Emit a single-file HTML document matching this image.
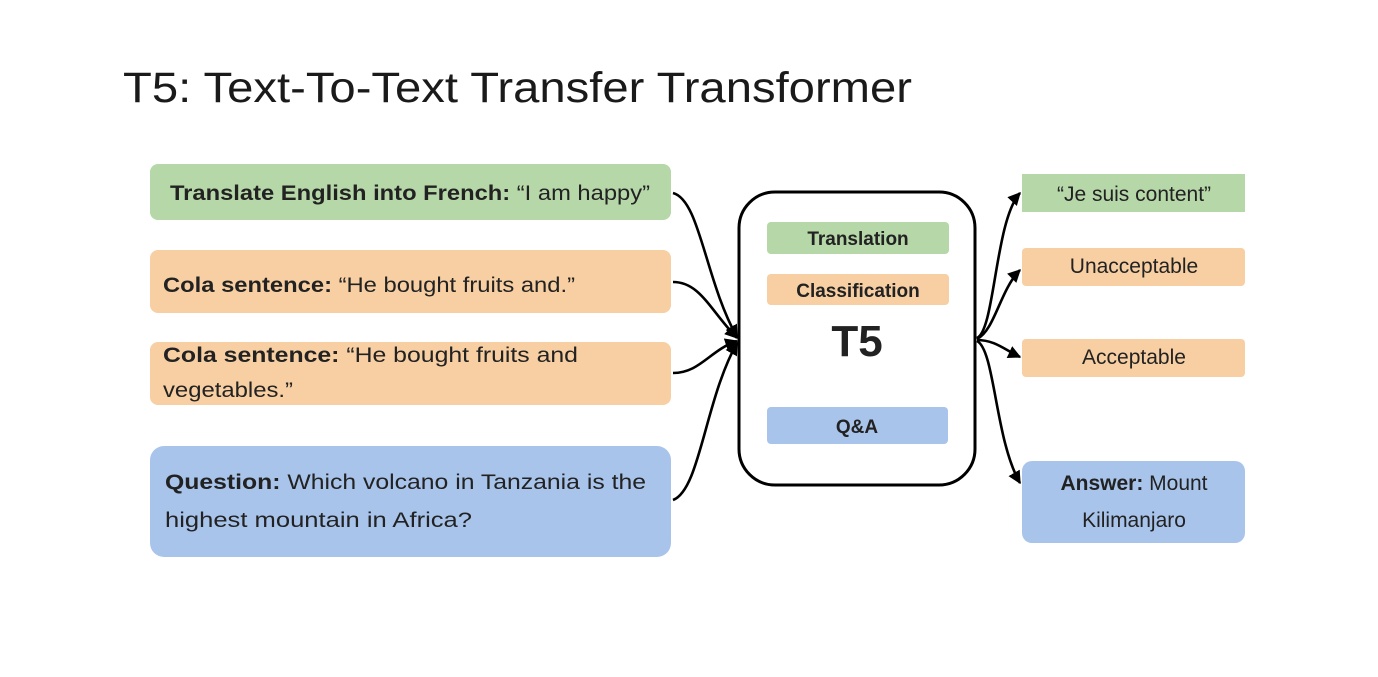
<!DOCTYPE html>
<html><head><style>
body{margin:0;background:#fff;}
svg text{font-family:"Liberation Sans",sans-serif;fill:#222;}
</style></head><body>
<svg width="1378" height="672" xmlns="http://www.w3.org/2000/svg">
<defs><marker id="a" viewBox="0 0 10 10" refX="9" refY="5" markerWidth="5" markerHeight="5" orient="auto"><path d="M0,0L10,5L0,10z" fill="#000"/></marker></defs>
<text x="123" y="102" font-size="43" textLength="789" lengthAdjust="spacingAndGlyphs" style="fill:#1a1a1a">T5: Text-To-Text Transfer Transformer</text>
<rect x="150" y="164" width="521" height="56" rx="8" fill="#b6d7a8"/>
<rect x="150" y="250" width="521" height="63" rx="8" fill="#f7cfa3"/>
<rect x="150" y="342" width="521" height="63" rx="8" fill="#f7cfa3"/>
<rect x="150" y="446" width="521" height="111" rx="14" fill="#a9c4eb"/>
<text x="170" y="200" font-size="21" textLength="480" lengthAdjust="spacingAndGlyphs"><tspan font-weight="bold">Translate English into French: </tspan>“I am happy”</text>
<text x="163" y="292" font-size="21" textLength="412" lengthAdjust="spacingAndGlyphs"><tspan font-weight="bold">Cola sentence: </tspan>“He bought fruits and.”</text>
<text x="163" y="362" font-size="21" textLength="415" lengthAdjust="spacingAndGlyphs"><tspan font-weight="bold">Cola sentence: </tspan>“He bought fruits and</text>
<text x="163" y="397" font-size="21" textLength="130" lengthAdjust="spacingAndGlyphs">vegetables.”</text>
<text x="165" y="489" font-size="21" textLength="481" lengthAdjust="spacingAndGlyphs"><tspan font-weight="bold">Question: </tspan>Which volcano in Tanzania is the</text>
<text x="165" y="527" font-size="21" textLength="307" lengthAdjust="spacingAndGlyphs">highest mountain in Africa?</text>
<rect x="739" y="192" width="236" height="293" rx="36" fill="#fff" stroke="#000" stroke-width="3"/>
<rect x="767" y="222" width="182" height="32" rx="4" fill="#b6d7a8"/>
<rect x="767" y="274" width="182" height="31" rx="4" fill="#f7cfa3"/>
<rect x="767" y="407" width="181" height="37" rx="4" fill="#a9c4eb"/>
<text x="858" y="245" font-size="19" font-weight="bold" text-anchor="middle">Translation</text>
<text x="858" y="297" font-size="19" font-weight="bold" text-anchor="middle">Classification</text>
<text x="857" y="356" font-size="44" font-weight="bold" text-anchor="middle">T5</text>
<text x="857" y="433" font-size="19" font-weight="bold" text-anchor="middle">Q&amp;A</text>
<rect x="1022" y="174" width="223" height="38" fill="#b6d7a8"/>
<rect x="1022" y="248" width="223" height="38" rx="4" fill="#f7cfa3"/>
<rect x="1022" y="339" width="223" height="38" rx="4" fill="#f7cfa3"/>
<rect x="1022" y="461" width="223" height="82" rx="10" fill="#a9c4eb"/>
<text x="1134" y="201" font-size="21" text-anchor="middle">“Je suis content”</text>
<text x="1134" y="273" font-size="21" text-anchor="middle">Unacceptable</text>
<text x="1134" y="364" font-size="21" text-anchor="middle">Acceptable</text>
<text x="1134" y="490" font-size="21" text-anchor="middle"><tspan font-weight="bold">Answer: </tspan>Mount</text>
<text x="1134" y="527" font-size="21" text-anchor="middle">Kilimanjaro</text>
<g fill="none" stroke="#000" stroke-width="2.6" marker-end="url(#a)">
<path d="M673,193 C700,200 705,280 737,337"/>
<path d="M673,282 C700,282 710,310 737,338"/>
<path d="M673,373 C700,373 710,350 737,341"/>
<path d="M673,500 C700,490 705,400 737,343"/>
<path d="M977,338 C995,330 995,220 1020,193"/>
<path d="M977,339 C995,330 1000,290 1020,270"/>
<path d="M977,340 C995,340 1005,350 1020,357"/>
<path d="M977,341 C995,350 995,440 1020,483"/>
</g>
</svg>
</body></html>
